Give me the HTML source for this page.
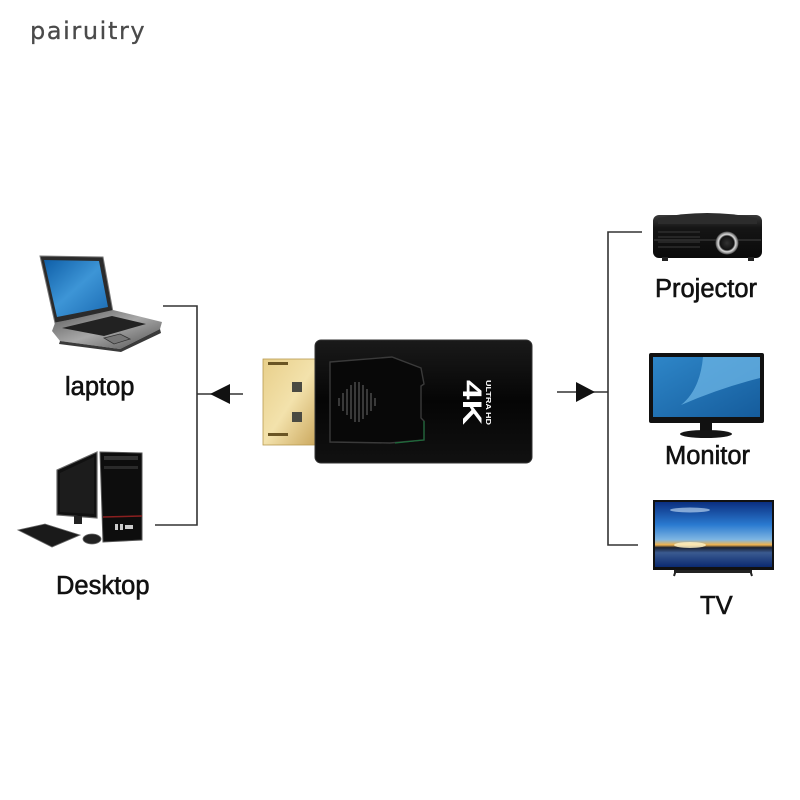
<!DOCTYPE html>
<html>
<head>
<meta charset="utf-8">
<style>
html,body{margin:0;padding:0;background:#fff;}
svg{display:block;}
.lbl{font-family:"Liberation Sans",sans-serif;font-size:25.5px;fill:#111;stroke:#111;stroke-width:0.6px;}
</style>
</head>
<body>
<svg width="800" height="800" viewBox="0 0 800 800" xmlns="http://www.w3.org/2000/svg">
<defs>
  <linearGradient id="gold" x1="0" y1="0" x2="1" y2="1">
    <stop offset="0" stop-color="#e8cf8a"/>
    <stop offset="0.5" stop-color="#f3e2ac"/>
    <stop offset="1" stop-color="#c9a55a"/>
  </linearGradient>
  <linearGradient id="body" x1="0" y1="0" x2="0" y2="1">
    <stop offset="0" stop-color="#1a1a1a"/>
    <stop offset="0.5" stop-color="#050505"/>
    <stop offset="1" stop-color="#111"/>
  </linearGradient>
  <linearGradient id="lapscr" x1="0" y1="0" x2="1" y2="1">
    <stop offset="0" stop-color="#0f5fa8"/>
    <stop offset="0.5" stop-color="#3d95d6"/>
    <stop offset="1" stop-color="#1b6bb3"/>
  </linearGradient>
  <linearGradient id="silver" x1="0" y1="0" x2="1" y2="1">
    <stop offset="0" stop-color="#5a5a5a"/>
    <stop offset="0.5" stop-color="#a8a8a8"/>
    <stop offset="1" stop-color="#505050"/>
  </linearGradient>
  <linearGradient id="monscr" x1="0" y1="0" x2="1" y2="1">
    <stop offset="0" stop-color="#2e86c8"/>
    <stop offset="1" stop-color="#155c9c"/>
  </linearGradient>
  <linearGradient id="tvscr" x1="0" y1="0" x2="0" y2="1">
    <stop offset="0" stop-color="#0b2f80"/>
    <stop offset="0.35" stop-color="#2a7ad0"/>
    <stop offset="0.58" stop-color="#7fb6e2"/>
    <stop offset="0.66" stop-color="#f2b24a"/>
    <stop offset="0.7" stop-color="#1a2030"/>
    <stop offset="0.78" stop-color="#3a5a90"/>
    <stop offset="1" stop-color="#0b2a70"/>
  </linearGradient>
  <linearGradient id="proj" x1="0" y1="0" x2="0" y2="1">
    <stop offset="0" stop-color="#3a3a3a"/>
    <stop offset="0.3" stop-color="#151515"/>
    <stop offset="1" stop-color="#0a0a0a"/>
  </linearGradient>
  <radialGradient id="lens" cx="0.5" cy="0.5" r="0.5">
    <stop offset="0" stop-color="#333"/>
    <stop offset="0.6" stop-color="#111"/>
    <stop offset="0.75" stop-color="#ddd"/>
    <stop offset="0.9" stop-color="#888"/>
    <stop offset="1" stop-color="#444"/>
  </radialGradient>
</defs>

<!-- title -->
<text x="30" y="39" font-family="'DejaVu Sans',sans-serif" font-size="24" letter-spacing="1.6" fill="#4a4a4a" stroke="#4a4a4a" stroke-width="0.3">pairuitry</text>

<!-- left bracket -->
<g stroke="#333" stroke-width="1.6" fill="none">
  <polyline points="163,306 197,306 197,525 155,525"/>
  <line x1="197" y1="394" x2="243" y2="394"/>
</g>
<polygon points="210,394 230,384 230,404" fill="#111"/>

<!-- right bracket -->
<g stroke="#333" stroke-width="1.6" fill="none">
  <polyline points="642,232 608,232 608,545 638,545"/>
  <line x1="557" y1="392" x2="608" y2="392"/>
</g>
<polygon points="595,392 576,382 576,402" fill="#111"/>

<!-- laptop -->
<polygon points="40,256 103,257 113,312 55,323" fill="#2b2b2b" stroke="#777" stroke-width="1"/>
<polygon points="44,260 99,261 108,307 57,317" fill="url(#lapscr)"/>
<polygon points="55,323 113,310 162,322 160,329 120,349 60,341 52,331" fill="url(#silver)"/>
<polygon points="62,328 112,316 146,324 104,336" fill="#222"/>
<polygon points="104,338 120,334 130,339 114,344" fill="#777" stroke="#333" stroke-width="0.8"/>
<polygon points="60,341 120,349 160,329 161,333 121,352 59,344" fill="#3a3a3a"/>

<!-- desktop -->
<polygon points="57,470 97,452 97,518 57,515" fill="#111" stroke="#666" stroke-width="1.2"/>
<polygon points="60,473 94,457 94,514 60,512" fill="#1c1c1c"/>
<rect x="74" y="516" width="8" height="8" fill="#222"/>
<polygon points="100,452 142,453 142,540 103,542" fill="#0d0d0d" stroke="#555" stroke-width="1"/>
<rect x="104" y="456" width="34" height="4" fill="#333"/>
<rect x="104" y="466" width="34" height="3" fill="#2a2a2a"/>
<line x1="103" y1="517" x2="142" y2="516" stroke="#8a1f1f" stroke-width="1.5"/>
<rect x="115" y="524" width="3" height="6" fill="#ccc"/>
<rect x="120" y="524" width="3" height="6" fill="#ccc"/>
<rect x="125" y="525" width="8" height="4" fill="#ccc"/>
<polygon points="18,530 45,524 80,535 52,547" fill="#1a1a1a" stroke="#666" stroke-width="0.8"/>
<ellipse cx="92" cy="539" rx="9" ry="5" fill="#222" stroke="#666" stroke-width="0.8"/>

<!-- labels left -->
<text class="lbl" x="65" y="395">laptop</text>
<text class="lbl" x="56" y="594">Desktop</text>

<!-- adapter -->
<rect x="263" y="359" width="56" height="86" fill="url(#gold)" stroke="#b89a50" stroke-width="0.8"/>
<rect x="268" y="362" width="20" height="3" fill="#6a5524"/>
<rect x="268" y="433" width="20" height="3" fill="#6a5524"/>
<rect x="292" y="382" width="10" height="10" fill="#4a4a42"/>
<rect x="292" y="412" width="10" height="10" fill="#4a4a42"/>
<rect x="315" y="340" width="217" height="123" rx="6" fill="url(#body)" stroke="#333" stroke-width="1"/>
<path d="M330,362 L392,357 L421,368 L424,384 L421,386 L421,418 L424,421 L424,440 L390,443 L330,442 Z" fill="#080808" stroke="#3a3a3a" stroke-width="1.4"/>
<path d="M424,421 L424,440 L395,443" fill="none" stroke="#1d6b3a" stroke-width="1.2"/>
<g stroke="#5a5a5a" stroke-width="1.2">
  <line x1="339" y1="398" x2="339" y2="406"/>
  <line x1="343" y1="393" x2="343" y2="411"/>
  <line x1="347" y1="389" x2="347" y2="415"/>
  <line x1="351" y1="385" x2="351" y2="419"/>
  <line x1="355" y1="382" x2="355" y2="422"/>
  <line x1="359" y1="382" x2="359" y2="422"/>
  <line x1="363" y1="385" x2="363" y2="419"/>
  <line x1="367" y1="389" x2="367" y2="415"/>
  <line x1="371" y1="393" x2="371" y2="411"/>
  <line x1="375" y1="398" x2="375" y2="406"/>
</g>
<text transform="translate(463,380) rotate(90)" font-family="'Liberation Sans',sans-serif" font-weight="bold" font-size="27" fill="#fff" textLength="45" lengthAdjust="spacingAndGlyphs">4K</text>
<text transform="translate(486,380) rotate(90)" font-family="'Liberation Sans',sans-serif" font-weight="bold" font-size="7.5" fill="#fff" textLength="45" lengthAdjust="spacingAndGlyphs">ULTRA HD</text>

<!-- projector -->
<rect x="653" y="215" width="109" height="43" rx="6" fill="url(#proj)"/>
<path d="M658,218 Q707,208 757,218 L757,224 L658,224 Z" fill="#2c2c2c"/>
<g stroke="#3a3a3a" stroke-width="1">
  <line x1="658" y1="232" x2="700" y2="232"/>
  <line x1="658" y1="237" x2="700" y2="237"/>
  <line x1="658" y1="242" x2="700" y2="242"/>
  <line x1="658" y1="247" x2="700" y2="247"/>
</g>
<line x1="654" y1="240" x2="761" y2="240" stroke="#555" stroke-width="0.8"/>
<circle cx="727" cy="243" r="11.5" fill="url(#lens)"/>
<rect x="662" y="257" width="6" height="4" fill="#222"/>
<rect x="748" y="257" width="6" height="4" fill="#222"/>
<text class="lbl" x="655" y="297">Projector</text>

<!-- monitor -->
<rect x="649" y="353" width="115" height="70" rx="2" fill="#111"/>
<rect x="653" y="357" width="107" height="60" fill="url(#monscr)"/>
<path d="M703,357 Q700,390 681,405 Q720,388 760,378 L760,357 Z" fill="#6cb6e6" opacity="0.75"/>
<rect x="700" y="423" width="12" height="9" fill="#111"/>
<ellipse cx="706" cy="434" rx="26" ry="4" fill="#151515"/>
<text class="lbl" x="665" y="464">Monitor</text>

<!-- TV -->
<rect x="653" y="500" width="121" height="70" fill="#111"/>
<rect x="655" y="502" width="117" height="65" fill="url(#tvscr)"/>
<ellipse cx="690" cy="510" rx="20" ry="2.5" fill="#cfe6fb" opacity="0.6"/>
<ellipse cx="690" cy="545" rx="16" ry="3" fill="#fff3c8" opacity="0.8"/>
<rect x="674" y="570" width="78" height="3" fill="#222"/>
<line x1="676" y1="570" x2="674" y2="576" stroke="#222" stroke-width="2"/>
<line x1="750" y1="570" x2="752" y2="576" stroke="#222" stroke-width="2"/>
<text class="lbl" x="700" y="614">TV</text>
</svg>
</body>
</html>
